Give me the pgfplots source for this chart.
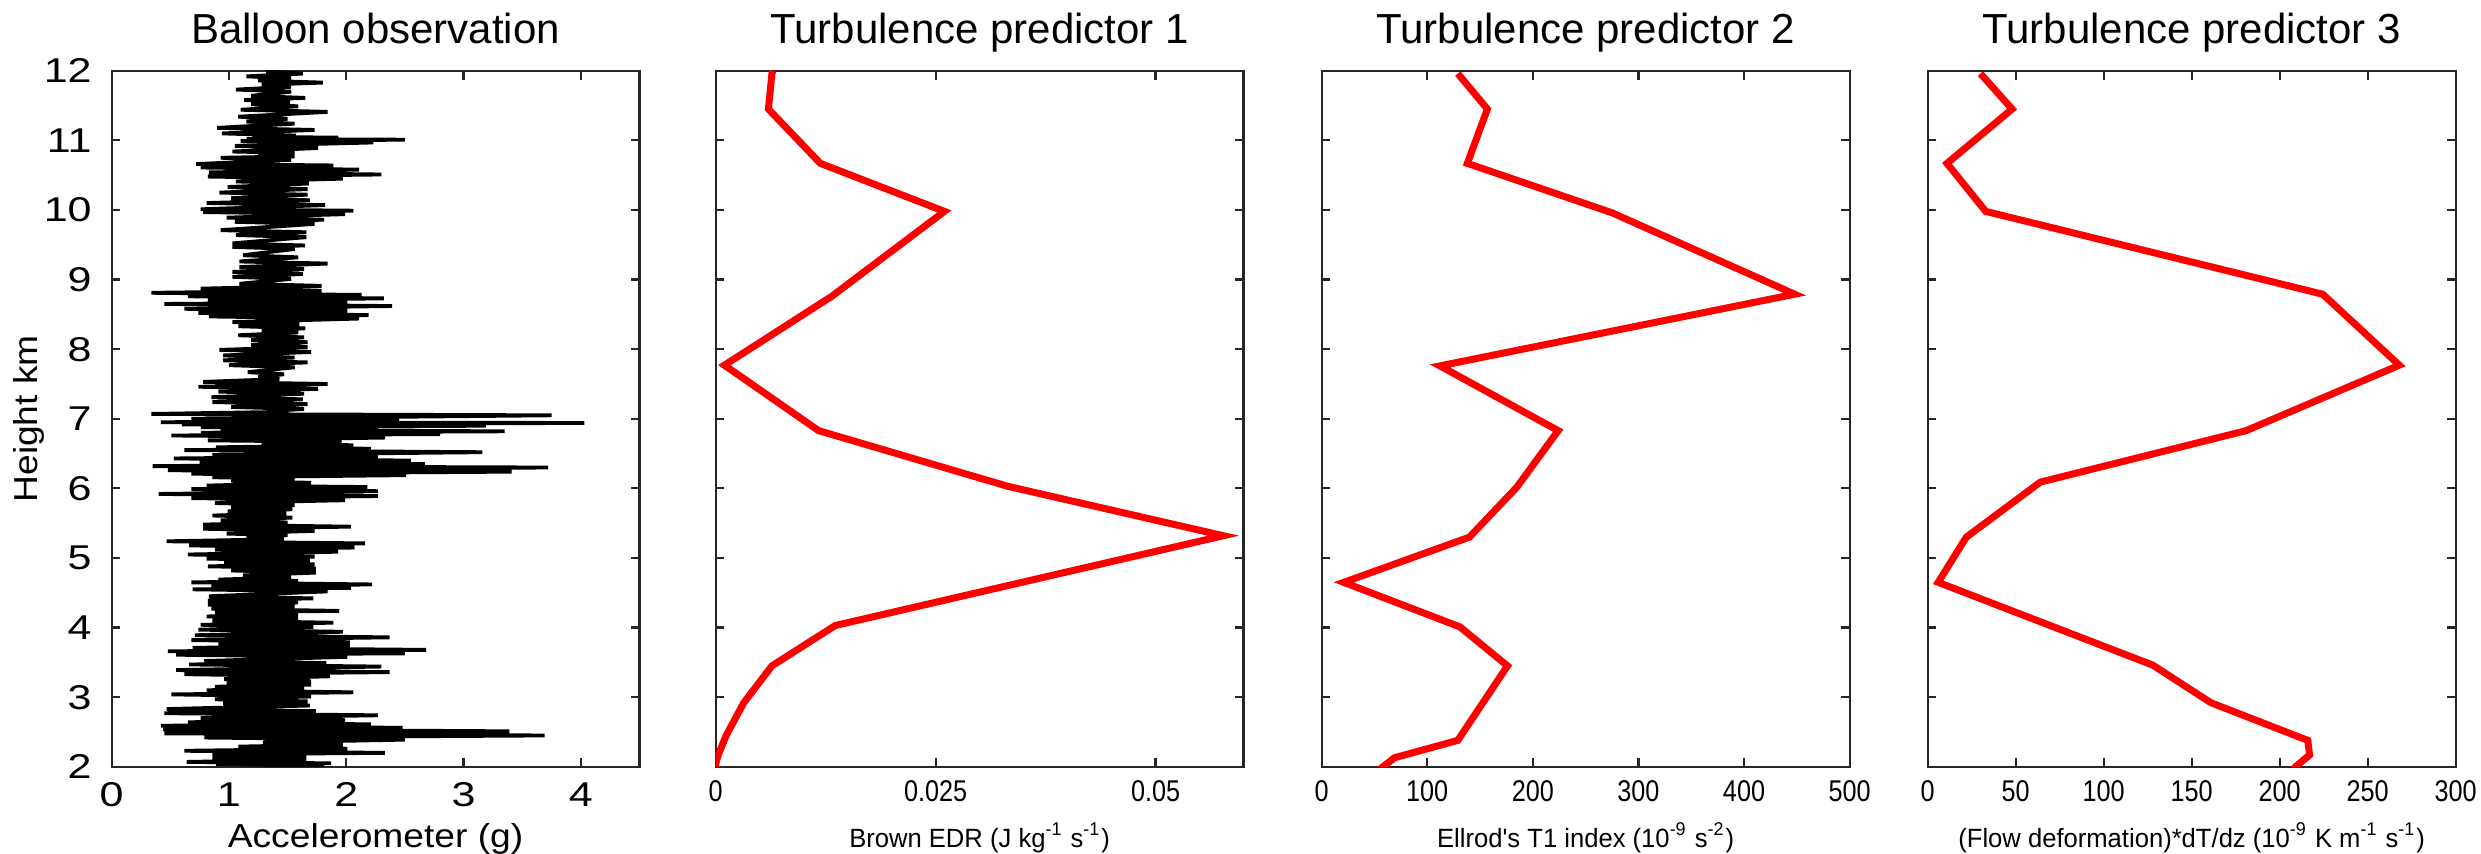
\documentclass[border=0pt]{standalone}
\usepackage{fontspec}
\setmainfont{Liberation Sans}
\newfontfamily\fTickA[FakeStretch=1.25]{Liberation Sans}
\newfontfamily\fLabA[FakeStretch=1.12]{Liberation Sans}
\newfontfamily\fTickB[FakeStretch=0.84]{Liberation Sans}
\newfontfamily\fLabB[FakeStretch=0.97]{Liberation Sans}
\usepackage{pgfplots}
\usepackage{pgfplotstable}
\pgfplotsset{compat=1.18}

\pgfplotstableread{
x y
1.40 12.05
1.32 11.99
1.63 11.96
1.15 11.92
1.53 11.89
1.25 11.86
1.80 11.83
1.28 11.80
1.53 11.77
1.06 11.73
1.53 11.70
1.19 11.64
1.65 11.61
1.13 11.58
1.52 11.55
1.19 11.52
1.59 11.49
1.10 11.44
1.84 11.41
1.08 11.34
1.50 11.31
1.15 11.27
1.56 11.24
0.90 11.18
1.73 11.15
0.94 11.10
1.57 11.07
1.20 11.05
1.93 11.04
1.15 11.02
2.50 11.01
1.10 10.99
2.23 10.97
1.05 10.92
1.76 10.89
1.03 10.84
1.56 10.82
1.25 10.79
1.56 10.77
0.93 10.75
1.53 10.72
0.72 10.66
1.89 10.64
0.76 10.61
2.11 10.58
0.83 10.54
2.30 10.51
0.82 10.48
1.97 10.45
1.06 10.41
1.68 10.38
0.99 10.33
1.67 10.30
0.92 10.25
1.67 10.22
1.02 10.17
1.69 10.14
0.81 10.10
1.82 10.07
0.76 10.01
2.06 9.99
0.78 9.97
1.99 9.94
0.98 9.89
1.81 9.86
1.05 9.83
1.73 9.80
0.93 9.71
1.66 9.68
1.06 9.64
1.66 9.61
1.03 9.52
1.65 9.49
1.03 9.47
1.56 9.44
1.12 9.35
1.59 9.32
1.09 9.26
1.84 9.23
1.09 9.18
1.64 9.15
1.03 9.11
1.63 9.08
1.03 9.04
1.53 9.01
1.09 8.94
1.79 8.91
0.76 8.87
1.79 8.84
0.34 8.81
2.13 8.78
0.65 8.76
2.32 8.73
0.82 8.70
2.01 8.67
0.45 8.65
2.39 8.62
0.62 8.58
2.01 8.55
0.74 8.52
2.19 8.49
0.83 8.47
2.11 8.44
1.03 8.39
1.60 8.36
1.08 8.33
1.65 8.30
1.28 8.27
1.59 8.24
1.08 8.20
1.64 8.17
1.19 8.13
1.67 8.10
1.19 8.06
1.67 8.03
0.92 7.99
1.70 7.96
0.95 7.91
1.56 7.88
0.95 7.84
1.67 7.81
1.00 7.77
1.56 7.74
1.16 7.67
1.47 7.64
1.25 7.60
1.43 7.57
0.78 7.53
1.84 7.50
0.74 7.46
1.76 7.43
0.91 7.39
1.64 7.36
0.85 7.31
1.63 7.28
0.86 7.24
1.67 7.21
1.02 7.17
1.64 7.14
1.42 7.12
1.50 7.10
0.34 7.07
3.75 7.05
0.68 7.00
2.45 6.98
0.42 6.95
4.03 6.94
0.60 6.92
3.19 6.90
0.76 6.88
2.27 6.86
0.93 6.84
3.35 6.82
0.76 6.80
2.80 6.78
0.51 6.76
2.33 6.73
0.82 6.69
1.96 6.67
1.28 6.64
2.06 6.62
0.89 6.59
2.21 6.57
0.62 6.55
3.16 6.52
0.86 6.48
2.27 6.46
0.53 6.43
2.55 6.40
0.75 6.37
2.67 6.35
0.35 6.32
3.72 6.30
0.48 6.26
3.41 6.24
0.68 6.21
2.51 6.19
0.86 6.16
1.56 6.14
1.02 6.11
1.70 6.08
0.81 6.04
2.18 6.02
0.68 5.99
2.27 5.96
0.40 5.92
2.27 5.89
0.68 5.86
1.99 5.83
0.88 5.79
1.56 5.76
1.02 5.73
1.54 5.70
0.99 5.67
1.49 5.64
0.86 5.61
1.54 5.58
0.93 5.54
1.50 5.51
0.78 5.48
2.04 5.45
0.78 5.42
1.73 5.39
0.98 5.35
1.50 5.33
1.15 5.30
1.47 5.27
0.47 5.24
2.16 5.21
0.66 5.18
2.07 5.15
0.88 5.12
1.93 5.09
0.65 5.05
1.73 5.02
0.81 4.99
1.69 4.97
0.96 4.94
1.73 4.91
0.82 4.88
1.74 4.85
1.02 4.82
1.74 4.79
1.12 4.75
1.53 4.72
0.91 4.69
1.59 4.67
0.68 4.65
2.22 4.62
0.85 4.59
2.04 4.57
0.69 4.55
1.84 4.52
0.83 4.45
1.72 4.42
0.82 4.39
1.59 4.36
0.82 4.33
1.56 4.30
0.85 4.27
1.94 4.24
0.88 4.22
1.59 4.19
0.81 4.16
1.59 4.13
0.86 4.10
1.89 4.07
0.76 4.04
1.72 4.01
0.74 3.97
1.97 3.94
0.71 3.89
2.37 3.86
0.68 3.82
2.03 3.79
0.91 3.76
2.03 3.73
0.69 3.71
2.68 3.68
0.48 3.66
2.50 3.63
0.55 3.61
2.01 3.58
0.79 3.52
1.83 3.49
0.66 3.47
2.30 3.44
0.55 3.39
2.37 3.36
0.62 3.33
1.86 3.30
0.96 3.26
1.70 3.23
0.98 3.21
1.70 3.18
0.88 3.15
1.64 3.12
0.81 3.10
2.06 3.07
0.51 3.04
1.70 3.01
0.88 2.97
1.67 2.94
0.95 2.91
1.69 2.88
0.47 2.83
1.74 2.80
0.45 2.77
2.27 2.74
0.76 2.70
1.99 2.67
0.65 2.64
2.21 2.61
0.42 2.59
2.48 2.56
0.44 2.54
3.39 2.51
0.45 2.48
3.69 2.45
0.79 2.42
2.50 2.39
1.29 2.35
1.97 2.32
1.08 2.29
2.01 2.26
0.62 2.23
2.33 2.20
0.86 2.18
1.66 2.15
0.86 2.13
1.66 2.10
0.64 2.07
1.87 2.05
0.89 2.04
1.81 2.02
1.30 1.98
}\balloon

\pgfplotstableread{
x y
-0.0003 1.90
0.0003 2.17
0.0012 2.45
0.0032 2.92
0.0064 3.45
0.0136 4.03
0.0577 5.32
0.0332 6.03
0.0117 6.83
0.0010 7.77
0.0132 8.76
0.0260 9.98
0.0119 10.67
0.0060 11.45
0.0064 11.96
0.0065 12.00
}\predA

\pgfplotstableread{
x y
54 1.95
58 2.00
69 2.13
129 2.38
176 3.45
131 4.01
21 4.65
140 5.30
185 6.02
224 6.83
112 7.76
448 8.79
275 9.96
138 10.67
157 11.45
129 11.96
}\predB

\pgfplotstableread{
x y
207 1.95
209 2.00
217 2.17
216 2.38
161 2.92
128 3.46
6 4.65
22 5.30
64 6.09
181 6.83
268 7.77
224.5 8.79
33 9.98
11 10.67
48 11.45
30 11.96
}\predC

\pgfplotsset{
  mybase/.style={
    scale only axis, width=132pt, height=174pt,
    ymin=2, ymax=12, ytick={2,3,4,5,6,7,8,9,10,11,12},
    tick align=inside, major tick length=2.2pt,
    axis line style={line width=0.55pt, black!85},
    tick style={line width=0.55pt, black!85},
    /pgf/number format/assume math mode=true,
    scaled x ticks=false,
    every axis title shift=0pt,
    title style={at={(axis description cs:0.5,1)}, anchor=base, yshift=6.85pt,
      inner sep=0pt, font=\fontsize{10.5}{12}\selectfont},
    xlabel style={at={(axis description cs:0.5,0)}, anchor=base, yshift=-20.1pt, inner sep=0pt},
  },
  smallpanel/.style={
    mybase,
    yticklabels={},
    xticklabel style={anchor=base, yshift=-8.8pt, inner sep=0pt,
      font=\fTickB\fontsize{7.5}{9}\selectfont},
    xlabel style={font=\fLabB\fontsize{6.6}{8}\selectfont},
  },
  redline/.style={red, line width=1.75pt, line join=miter, no marks},
}

\begin{document}
\begin{tikzpicture}
\path[use as bounding box] (0,0) rectangle (620.25pt,213.5pt);

\begin{axis}[mybase,
  at={(27.9pt,21.8pt)}, anchor=south west,
  xmin=0, xmax=4.5, xtick={0,1,2,3,4},
  title={Balloon observation},
  xlabel={Accelerometer (g)},
  ylabel={Height km},
  xticklabel style={anchor=base, yshift=-9.9pt, inner sep=0pt,
    font=\fTickA\fontsize{8.6}{9}\selectfont},
  yticklabel style={anchor=east, xshift=-4.8pt, inner sep=0pt,
    font=\fTickA\fontsize{8.6}{9}\selectfont},
  xlabel style={font=\fLabA\fontsize{8.3}{9}\selectfont},
  ylabel style={at={([xshift=-18.4pt]axis description cs:0,0.5)}, anchor=base,
    inner sep=0pt, font=\fLabA\fontsize{8.3}{9}\selectfont},
]
\addplot[black, line width=0.95pt, line join=bevel, no marks] table[x=x, y=y] {\balloon};
\end{axis}

\begin{axis}[smallpanel,
  at={(178.9pt,21.8pt)}, anchor=south west,
  xmin=0, xmax=0.06, xtick={0,0.025,0.05}, xticklabels={0,0.025,0.05},
  title={Turbulence predictor 1},
  xlabel={Brown EDR (J kg\textsuperscript{-1} s\textsuperscript{-1})},
]
\addplot[redline] table[x=x, y=y] {\predA};
\end{axis}

\begin{axis}[smallpanel,
  at={(330.4pt,21.8pt)}, anchor=south west,
  xmin=0, xmax=500, xtick={0,100,200,300,400,500},
  title={Turbulence predictor 2},
  xlabel={Ellrod's T1 index (10\textsuperscript{-9} s\textsuperscript{-2})},
]
\addplot[redline] table[x=x, y=y] {\predB};
\end{axis}

\begin{axis}[smallpanel,
  at={(481.9pt,21.8pt)}, anchor=south west,
  xmin=0, xmax=300, xtick={0,50,100,150,200,250,300},
  title={Turbulence predictor 3},
  xlabel={(Flow deformation)*dT/dz (10\textsuperscript{-9} K m\textsuperscript{-1} s\textsuperscript{-1})},
]
\addplot[redline] table[x=x, y=y] {\predC};
\end{axis}
\end{tikzpicture}
\end{document}
